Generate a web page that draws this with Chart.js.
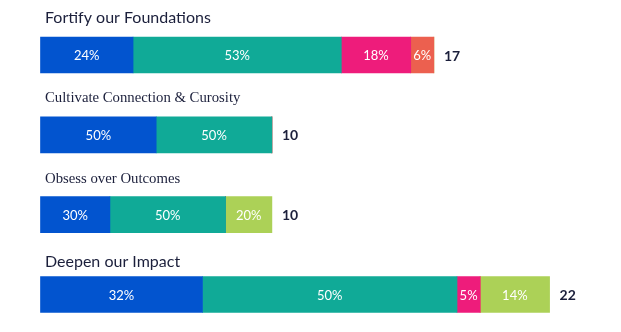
<!DOCTYPE html>
<html>
<head>
<meta charset="utf-8">
<script src="https://cdn.jsdelivr.net/npm/chart.js@4.4.1/dist/chart.umd.min.js"></script>
<style>
  html, body { margin: 0; padding: 0; background: #fff; }
  #wrap { width: 621px; height: 332px; }
</style>
</head>
<body>
<div id="wrap"><canvas id="chart" width="621" height="332"></canvas></div>
<script>
// Priorities (one bar each) and how many items fall in each colour band
const priorities = ['Fortify our Foundations', 'Cultivate Connection & Curosity', 'Obsess over Outcomes', 'Deepen our Impact'];
const titleSerif = [false, true, true, false];

const blueCounts  = [4, 5, 3, 7];
const tealCounts  = [9, 5, 5, 11];
const pinkCounts  = [3, 0, 0, 1];
const coralCounts = [1, 0, 0, 0];
const greenCounts = [0, 0, 2, 3];

const totals = priorities.map((_, i) =>
    blueCounts[i] + tealCounts[i] + pinkCounts[i] + coralCounts[i] + greenCounts[i]);

// Colours
const BLUE = '#0254cf';
const TEAL = '#10aa97';
const PINK = '#ee1c7b';
const CORAL = '#ec604f';
const GREEN = '#acd157';
const INK = '#1b1f3b';

// Title gap above each bar (px from bar top to text baseline)
const titleGap = [14, 15, 14, 10];

// Draws the titles, the percentage inside each segment and the total to the right
const labelsPlugin = {
    id: 'labels',
    afterDatasetsDraw(chart) {
        const { ctx, scales: { y, x } } = chart;
        ctx.save();

        // segment percentages
        chart.data.datasets.forEach((ds, di) => {
            const meta = chart.getDatasetMeta(di);
            meta.data.forEach((bar, i) => {
                const v = ds.data[i];
                if (!v) return;
                const pct = Math.round(v / totals[i] * 100) + '%';
                ctx.fillStyle = '#ffffff';
                ctx.font = '13px Lato, sans-serif';
                ctx.textAlign = 'center';
                ctx.textBaseline = 'middle';
                ctx.fillText(pct, (bar.base + bar.x) / 2, bar.y + 1);
            });
        });

        priorities.forEach((name, i) => {
            const cy = y.getPixelForValue(i);
            const top = cy - 18;

            // title above the bar
            ctx.fillStyle = INK;
            ctx.textAlign = 'left';
            ctx.textBaseline = 'alphabetic';
            ctx.font = titleSerif[i] ? '14.75px "Liberation Serif", serif' : '16px Lato, sans-serif';
            ctx.fillText(name, x.left + 4.5, top - titleGap[i]);

            // total at the end of the bar
            ctx.font = 'bold 14px Lato, sans-serif';
            ctx.textBaseline = 'middle';
            ctx.fillText(String(totals[i]), x.getPixelForValue(totals[i]) + 10, cy + 1);
        });

        ctx.restore();
    }
};

const makeSet = (label, data, color) => ({
    label: label,
    data: data,
    backgroundColor: color,
    borderWidth: 0,
    barThickness: 36,
    clip: false
});

new Chart(document.getElementById('chart'), {
    type: 'bar',
    data: {
        labels: priorities,
        datasets: [
            makeSet('Blue', blueCounts, BLUE),
            makeSet('Teal', tealCounts, TEAL),
            makeSet('Pink', pinkCounts, PINK),
            makeSet('Coral', coralCounts, CORAL),
            makeSet('Green', greenCounts, GREEN)
        ]
    },
    options: {
        indexAxis: 'y',
        responsive: false,
        animation: false,
        layout: { padding: { left: 40.5, right: 2, top: 55, bottom: 37.5 } },
        plugins: {
            legend: { display: false },
            tooltip: { enabled: false }
        },
        scales: {
            x: { stacked: true, display: false, min: 0, max: 25 },
            y: { stacked: true, display: false, offset: false, grid: { display: false } }
        }
    },
    plugins: [labelsPlugin]
});
</script>
</body>
</html>
